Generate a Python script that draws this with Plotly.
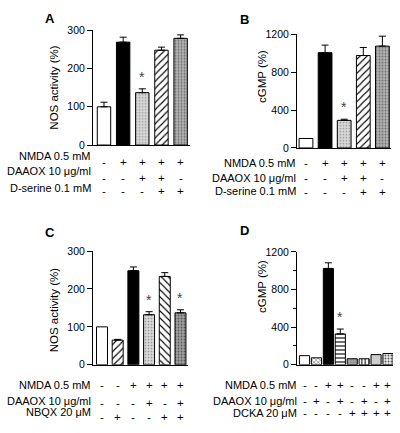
import plotly.graph_objects as go

W, H = 400, 433
FONT = "Liberation Sans, Arial, Helvetica, sans-serif"

# ---------------- data ----------------
a_values = [100, 269, 137, 248, 279]
a_errors = [12, 13, 10, 8, 9]
a_sig = [False, False, True, False, False]
a_rows = ["NMDA 0.5 mM", "DAAOX 10 μg/ml", "D-serine 0.1 mM"]
a_signs = [["-", "+", "+", "+", "+"],
           ["-", "-", "+", "+", "-"],
           ["-", "-", "-", "+", "+"]]

b_values = [100, 1005, 291, 975, 1074]
b_errors = [0, 80, 12, 85, 105]
b_sig = [False, False, True, False, False]
b_rows = ["NMDA 0.5 mM", "DAAOX 10 μg/ml", "D-serine 0.1 mM"]
b_signs = [["-", "+", "+", "+", "+"],
           ["-", "-", "+", "+", "-"],
           ["-", "-", "-", "+", "+"]]

c_values = [100, 65, 248, 132, 233, 137]
c_errors = [0, 2, 10, 8, 10, 8]
c_sig = [False, False, False, True, False, True]
c_rows = ["NMDA 0.5 mM", "DAAOX 10 μg/ml", "NBQX 20 μM"]
c_signs = [["-", "-", "+", "+", "+", "+"],
           ["-", "-", "-", "+", "-", "+"],
           ["-", "+", "-", "-", "+", "+"]]

d_values = [97, 74, 1025, 328, 64, 64, 108, 120]
d_errors = [0, 0, 60, 52, 0, 0, 0, 0]
d_sig = [False, False, False, True, False, False, False, False]
d_rows = ["NMDA 0.5 mM", "DAAOX 10 μg/ml", "DCKA 20 μM"]
d_signs = [["-", "-", "+", "+", "-", "-", "+", "+"],
           ["-", "+", "-", "+", "-", "+", "-", "+"],
           ["-", "-", "-", "-", "+", "+", "+", "+"]]

# ---------------- styles ----------------
WHITE = dict(shape="", bg="white", fg="black", size=4, sol=0.2)
BLACK = dict(shape="", bg="black", fg="black", size=4, sol=0.2)
LIGHT = dict(shape=".", bg="#d8d8d8", fg="#9a9a9a", size=3, sol=0.25)
MID = dict(shape=".", bg="#b4b4b4", fg="#6a6a6a", size=3, sol=0.3)
DARK = dict(shape=".", bg="#a0a0a0", fg="#5a5a5a", size=3, sol=0.3)
FWD = dict(shape="/", bg="white", fg="black", size=5, sol=0.22)
BCK = dict(shape="\\", bg="white", fg="black", size=5, sol=0.22)
XH = dict(shape="x", bg="white", fg="#444444", size=3, sol=0.3)
HL = dict(shape="-", bg="white", fg="black", size=4, sol=0.28)
VL = dict(shape="|", bg="white", fg="black", size=3.5, sol=0.3)
DOT = dict(shape=".", bg="#ececec", fg="#555555", size=3, sol=0.3)
GRAYSOLID = dict(shape="", bg="#9c9c9c", fg="black", size=4, sol=0.2)
LGSOLID = dict(shape="", bg="#cdcdcd", fg="black", size=4, sol=0.2)

a_styles = [WHITE, BLACK, LIGHT, FWD, MID]
c_styles = [WHITE, FWD, BLACK, LIGHT, BCK, DARK]
d_styles = [WHITE, XH, BLACK, HL, GRAYSOLID, VL, LGSOLID, DOT]

panels = [
    dict(name="A", vals=a_values, errs=a_errors, sig=a_sig, rows=a_rows, signs=a_signs,
         styles=a_styles, xdom=(93, 190), ydom=(25, 143), xr=(-0.574, 4.49), yr=300,
         dtick=100, minor=None, width=0.7, ytitle="NOS activity (%)", ytx=54, yty=84,
         letter=(50, 13), lab_x=93, lab_y=[154, 170, 187], sign_y=[160, 177, 190]),
    dict(name="B", vals=b_values, errs=b_errors, sig=b_sig, rows=b_rows, signs=b_signs,
         styles=a_styles, xdom=(297, 391), ydom=(29, 146), xr=(-0.47, 4.45), yr=1200,
         dtick=400, minor=None, width=0.72, ytitle="cGMP (%)", ytx=262, yty=73,
         letter=(244, 14), lab_x=298, lab_y=[161, 177, 190], sign_y=[161, 177, 191]),
    dict(name="C", vals=c_values, errs=c_errors, sig=c_sig, rows=c_rows, signs=c_signs,
         styles=c_styles, xdom=(93, 188), ydom=(252, 369), xr=(-0.573, 5.48), yr=300,
         dtick=100, minor=None, width=0.7, ytitle="NOS activity (%)", ytx=54, yty=313,
         letter=(50, 233), lab_x=93, lab_y=[390, 406, 418], sign_y=[390, 408, 423]),
    dict(name="D", vals=d_values, errs=d_errors, sig=d_sig, rows=d_rows, signs=d_signs,
         styles=d_styles, xdom=(297, 393), ydom=(253, 369), xr=(-0.63, 7.42), yr=1200,
         dtick=400, minor=200, width=0.85, ytitle="cGMP (%)", ytx=262, yty=289,
         letter=(244, 231), lab_x=299, lab_y=[390, 406, 419], sign_y=[390, 406, 419]),
]

fig = go.Figure()
annotations = []
layout = {}

for k, p in enumerate(panels, start=1):
    xa = "x" if k == 1 else f"x{k}"
    ya = "y" if k == 1 else f"y{k}"
    xname = "xaxis" if k == 1 else f"xaxis{k}"
    yname = "yaxis" if k == 1 else f"yaxis{k}"
    n = len(p["vals"])
    for i in range(n):
        st = p["styles"][i]
        marker = dict(color=st["bg"], line=dict(color="black", width=1))
        if st["shape"]:
            marker["pattern"] = dict(shape=st["shape"], fgcolor=st["fg"], bgcolor=st["bg"],
                                     size=st["size"], solidity=st["sol"], fillmode="replace")
        fig.add_trace(go.Bar(
            x=[i], y=[p["vals"][i]], width=p["width"], xaxis=xa, yaxis=ya,
            marker=marker,
            error_y=dict(type="data", symmetric=False, array=[p["errs"][i]],
                         arrayminus=[0], color="black", thickness=1, width=3.5,
                         visible=p["errs"][i] > 0),
            showlegend=False, hoverinfo="skip",
        ))
    layout[xname] = dict(
        domain=[p["xdom"][0] / W, p["xdom"][1] / W], range=list(p["xr"]),
        anchor=ya, showline=True, linecolor="black", linewidth=1,
        showticklabels=False, ticks="", showgrid=False, zeroline=False, fixedrange=True,
    )
    yax = dict(
        domain=[1 - p["ydom"][1] / H, 1 - p["ydom"][0] / H], range=[0, p["yr"]],
        anchor=xa, showline=True, linecolor="black", linewidth=1,
        ticks="outside", ticklen=5, tickwidth=1, tickcolor="black",
        tick0=0, dtick=p["dtick"], showgrid=False, zeroline=False,
        tickfont=dict(family=FONT, size=10.5, color="black"), fixedrange=True,
    )
    if p["minor"]:
        yax["minor"] = dict(dtick=p["minor"], ticks="outside", ticklen=3,
                            tickcolor="black", tickwidth=1, showgrid=False)
    layout[yname] = yax
    # y title
    annotations.append(dict(
        text=p["ytitle"], x=p["ytx"] / W, y=1 - p["yty"] / H, xref="paper", yref="paper",
        textangle=-90, showarrow=False, xanchor="center", yanchor="middle",
        font=dict(family=FONT, size=11.5, color="black"),
    ))
    # panel letter
    annotations.append(dict(
        text=f"<b>{p['name']}</b>", x=p["letter"][0] / W, y=1 - p["letter"][1] / H,
        xref="paper", yref="paper", showarrow=False, xanchor="center", yanchor="middle",
        font=dict(family=FONT, size=13, color="black"),
    ))
    # row labels and signs
    for r, label in enumerate(p["rows"]):
        annotations.append(dict(
            text=label, x=p["lab_x"] / W, y=1 - p["lab_y"][r] / H, xref="paper",
            yref="paper", showarrow=False, xanchor="right", yanchor="middle",
            font=dict(family=FONT, size=11, color="black"),
        ))
        for i, s in enumerate(p["signs"][r]):
            annotations.append(dict(
                text=s, x=i, y=1 - p["sign_y"][r] / H, xref=xa, yref="paper",
                showarrow=False, xanchor="center", yanchor="middle",
                font=dict(family=FONT, size=11.5, color="black"),
            ))
    # significance stars
    for i, flag in enumerate(p["sig"]):
        if flag:
            annotations.append(dict(
                text="*", x=i, y=p["vals"][i] + p["errs"][i], xref=xa, yref=ya,
                showarrow=False, xanchor="center", yanchor="bottom", yshift=2,
                font=dict(family=FONT, size=14, color="#444444"),
            ))

fig.update_layout(
    width=W, height=H, margin=dict(l=0, r=0, t=0, b=0),
    paper_bgcolor="white", plot_bgcolor="white",
    annotations=annotations, bargap=0, barmode="overlay", **layout,
)

fig.write_html(
    "out.html",
    config={"displayModeBar": False, "staticPlot": True},
    post_script="document.body.style.margin='0';document.body.style.padding='0';",
)
